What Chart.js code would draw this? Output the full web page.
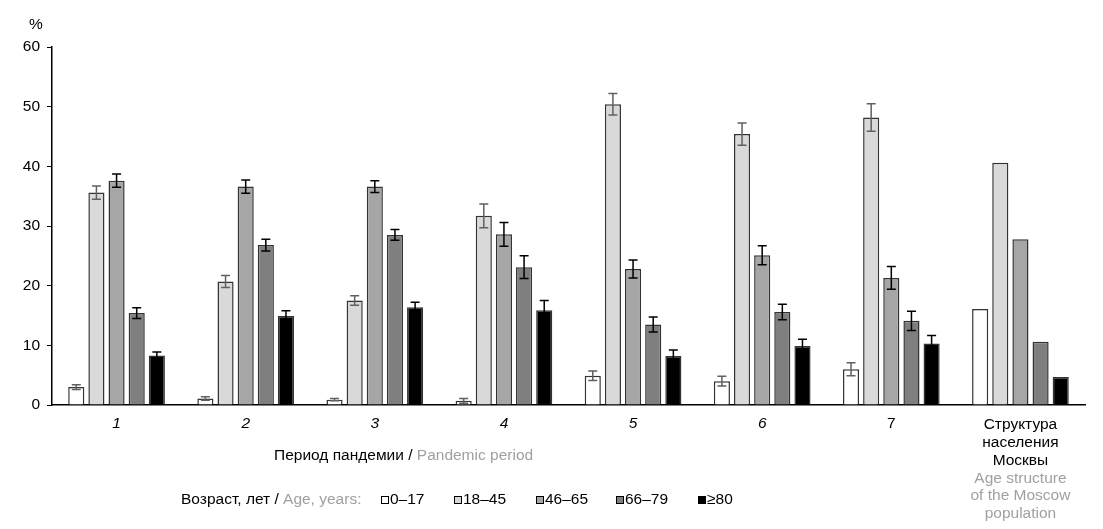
<!DOCTYPE html>
<html>
<head>
<meta charset="utf-8">
<script src="https://cdn.jsdelivr.net/npm/chart.js@4.4.0/dist/chart.umd.min.js"></script>
<style>
  html, body { margin: 0; padding: 0; background: #fff; }
  #wrap { width: 1103px; height: 529px; position: relative; }
</style>
</head>
<body>
<div id="wrap"><canvas id="chart1"></canvas></div>
<script>
// data
var periods = ['1', '2', '3', '4', '5', '6', '7', 'moscow'];
var moscowRu = ['Структура', 'населения', 'Москвы'];
var moscowEn = ['Age structure', 'of the Moscow', 'population'];
var ageGroups = ['0–17', '18–45', '46–65', '66–79', '≥80'];

var age0_17  = [3.0, 1.1, 0.9, 0.7, 4.9, 4.0, 6.0, 16.1];
var age18_45 = [35.6, 20.7, 17.5, 31.7, 50.4, 45.4, 48.2, 40.6];
var age46_65 = [37.6, 36.6, 36.6, 28.6, 22.8, 25.1, 21.3, 27.8];
var age66_79 = [15.4, 26.8, 28.5, 23.1, 13.5, 15.6, 14.1, 10.6];
var age80    = [8.3, 14.9, 16.4, 15.9, 8.2, 9.9, 10.3, 4.7];

// half-width of the error bars (null = none)
var err0_17  = [0.4, 0.3, 0.2, 0.4, 0.8, 0.8, 1.1, null];
var err18_45 = [1.1, 1.0, 0.8, 2.0, 1.8, 1.85, 2.3, null];
var err46_65 = [1.1, 1.1, 1.0, 2.0, 1.5, 1.6, 1.9, null];
var err66_79 = [0.9, 1.0, 0.9, 1.9, 1.25, 1.3, 1.6, null];
var err80    = [0.6, 0.9, 0.8, 1.6, 1.0, 1.1, 1.35, null];

var yTicks = [0, 10, 20, 30, 40, 50, 60];

var fills = ['#ffffff', '#d9d9d9', '#a6a6a6', '#7f7f7f', '#000000'];
var errColors = ['#606060', '#606060', '#000000', '#000000', '#000000'];
var FONT = '"Liberation Sans", Arial, sans-serif';
var FS = 15.5;
var GREY = '#a0a0a0';

var allValues = [age0_17, age18_45, age46_65, age66_79, age80];
var allErrors = [err0_17, err18_45, err46_65, err66_79, err80];

var datasets = ageGroups.map(function(g, i) {
    return {
        label: g,
        data: allValues[i],
        errors: allErrors[i],
        backgroundColor: fills[i],
        borderColor: '#333333',
        borderWidth: 1.5,
        barPercentage: 0.8,
        categoryPercentage: 0.78
    };
});

var errorBars = {
    id: 'errorBars',
    afterDatasetsDraw: function(chart) {
        var ctx = chart.ctx, y = chart.scales.y;
        chart.data.datasets.forEach(function(ds, di) {
            var meta = chart.getDatasetMeta(di);
            ctx.save();
            ctx.strokeStyle = errColors[di];
            ctx.lineWidth = 1.5;
            meta.data.forEach(function(bar, i) {
                var e = ds.errors[i];
                if (e == null) return;
                var v = ds.data[i];
                var top = y.getPixelForValue(v + e), bot = y.getPixelForValue(v - e);
                ctx.beginPath();
                ctx.moveTo(bar.x, top); ctx.lineTo(bar.x, bot);
                ctx.moveTo(bar.x - 4.5, top); ctx.lineTo(bar.x + 4.5, top);
                ctx.moveTo(bar.x - 4.5, bot); ctx.lineTo(bar.x + 4.5, bot);
                ctx.stroke();
            });
            ctx.restore();
        });
    }
};

function mixed(ctx, parts, x, y) {
    parts.forEach(function(p) {
        ctx.fillStyle = p[1];
        ctx.fillText(p[0], x, y);
        x += ctx.measureText(p[0]).width;
    });
    return x;
}

var labelsAndLegend = {
    id: 'labelsAndLegend',
    afterDraw: function(chart) {
        var ctx = chart.ctx, xs = chart.scales.x, ca = chart.chartArea;
        ctx.save();
        ctx.textBaseline = 'middle';
        ctx.textAlign = 'center';
        // category labels
        periods.forEach(function(p, i) {
            var px = xs.getPixelForValue(i);
            if (p === 'moscow') {
                ctx.font = FS + 'px ' + FONT;
                ctx.fillStyle = '#000';
                moscowRu.forEach(function(l, k) { ctx.fillText(l, px, ca.bottom + 20 + k * 17.8); });
                ctx.fillStyle = GREY;
                moscowEn.forEach(function(l, k) { ctx.fillText(l, px, ca.bottom + 73.4 + k * 17.8); });
            } else {
                ctx.font = (p === '7' ? '' : 'italic ') + FS + 'px ' + FONT;
                ctx.fillStyle = '#000';
                ctx.fillText(p, px, ca.bottom + 19);
            }
        });
        // axis title
        ctx.textAlign = 'left';
        ctx.font = FS + 'px ' + FONT;
        mixed(ctx, [['Период пандемии / ', '#000'], ['Pandemic period', GREY]], 274, 456);
        // % label
        ctx.fillStyle = '#000';
        ctx.fillText('%', 29, 25);
        // legend
        mixed(ctx, [['Возраст, лет / ', '#000'], ['Age, years:', GREY]], 181, 500);
        var sq = [381, 454, 536, 616, 698];
        ageGroups.forEach(function(g, i) {
            ctx.fillStyle = fills[i];
            ctx.fillRect(sq[i], 496, 8, 8);
            ctx.strokeStyle = '#000';
            ctx.lineWidth = 1;
            ctx.strokeRect(sq[i] + 0.5, 496.5, 7, 7);
            ctx.fillStyle = '#000';
            ctx.fillText(g, sq[i] + 9, 500);
        });
        ctx.restore();
    }
};

var ctx = document.getElementById('chart1').getContext('2d');
var myChart = new Chart(ctx, {
    type: 'bar',
    data: {
        labels: periods,
        datasets: datasets
    },
    plugins: [errorBars, labelsAndLegend],
    options: {
        responsive: true,
        maintainAspectRatio: false,
        animation: false,
        layout: { padding: { top: 47, right: 18, left: 0, bottom: 0 } },
        plugins: {
            legend: { display: false },
            tooltip: { enabled: false }
        },
        scales: {
            x: {
                grid: { display: false },
                border: { display: true, color: '#000', width: 1.5 },
                ticks: { display: false },
                afterFit: function(s) { s.height = 124; }
            },
            y: {
                min: 0,
                max: 60,
                afterBuildTicks: function(s) { s.ticks = yTicks.map(function(v) { return { value: v }; }); },
                grid: { display: true, drawOnChartArea: false, drawTicks: true, tickLength: 5, color: '#000' },
                border: { display: true, color: '#000', width: 1.5 },
                ticks: { color: '#000', padding: 7, font: { family: FONT, size: FS } },
                afterFit: function(s) { s.width = 52; }
            }
        }
    }
});
</script>
</body>
</html>
